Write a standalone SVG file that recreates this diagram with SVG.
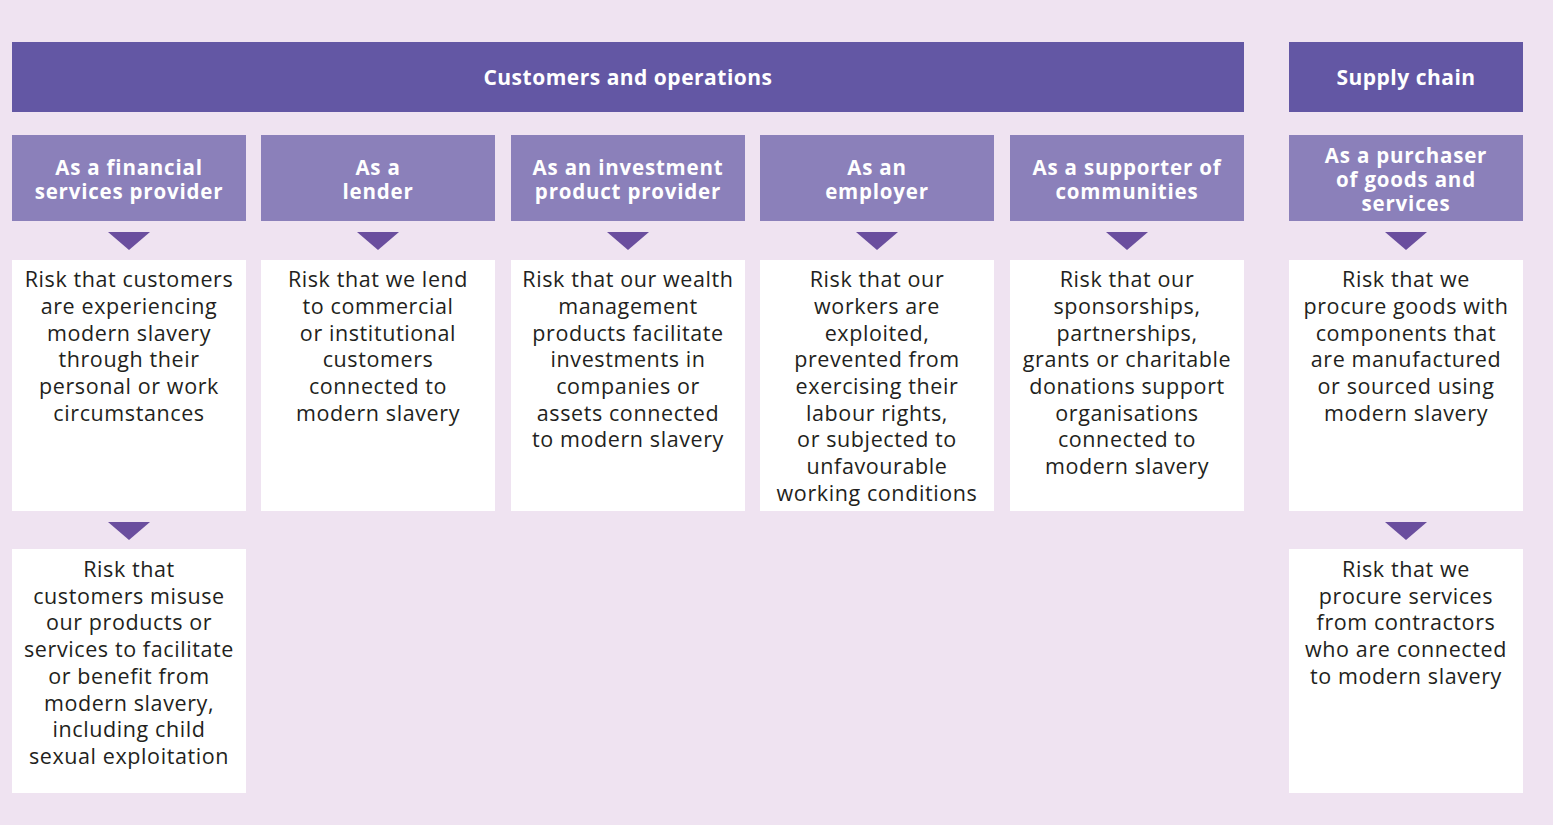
<svg xmlns="http://www.w3.org/2000/svg" width="1553" height="825" viewBox="0 0 1553 825">
<style>
.bg{fill:#efe3f1}
.hdr{fill:#6357a4}
.sub{fill:#8b80ba}
.box{fill:#ffffff}
.tri{fill:#6a4e9e}
.ht{font-family:"Open Sans","Liberation Sans",sans-serif;font-weight:700;font-size:21px;letter-spacing:0.5px;fill:#ffffff;text-anchor:middle}
.st{font-family:"Open Sans","Liberation Sans",sans-serif;font-weight:700;font-size:20.5px;letter-spacing:0.8px;fill:#ffffff;text-anchor:middle}
.bt{font-family:"Open Sans","Liberation Sans",sans-serif;font-size:21.5px;letter-spacing:0.6px;fill:#231f20;text-anchor:middle}
</style>
<defs>
<path id="arrow" d="M-21,0 L21,0 L0,18 Z"/>
</defs>
<rect class="bg" x="0" y="0" width="1553" height="825"/>

<g id="header-customers">
<rect class="hdr" x="12" y="42" width="1232" height="70"/>
<text class="ht" x="628" y="85">Customers and operations</text>
</g>
<g id="header-supply">
<rect class="hdr" x="1289" y="42" width="234" height="70"/>
<text class="ht" x="1406" y="85">Supply chain</text>
</g>

<g id="sub-financial">
<rect class="sub" x="12" y="135" width="234" height="86"/>
<text class="st" x="129" y="175">As a financial</text>
<text class="st" x="129" y="199">services provider</text>
</g>
<g id="sub-lender">
<rect class="sub" x="261" y="135" width="234" height="86"/>
<text class="st" x="378" y="175">As a</text>
<text class="st" x="378" y="199">lender</text>
</g>
<g id="sub-investment">
<rect class="sub" x="511" y="135" width="234" height="86"/>
<text class="st" x="628" y="175">As an investment</text>
<text class="st" x="628" y="199">product provider</text>
</g>
<g id="sub-employer">
<rect class="sub" x="760" y="135" width="234" height="86"/>
<text class="st" x="877" y="175">As an</text>
<text class="st" x="877" y="199">employer</text>
</g>
<g id="sub-communities">
<rect class="sub" x="1010" y="135" width="234" height="86"/>
<text class="st" x="1127" y="175">As a supporter of</text>
<text class="st" x="1127" y="199">communities</text>
</g>
<g id="sub-purchaser">
<rect class="sub" x="1289" y="135" width="234" height="86"/>
<text class="st" x="1406" y="163">As a purchaser</text>
<text class="st" x="1406" y="187">of goods and</text>
<text class="st" x="1406" y="211">services</text>
</g>

<g id="connectors">
<use href="#arrow" class="tri" x="129" y="232"/>
<use href="#arrow" class="tri" x="378" y="232"/>
<use href="#arrow" class="tri" x="628" y="232"/>
<use href="#arrow" class="tri" x="877" y="232"/>
<use href="#arrow" class="tri" x="1127" y="232"/>
<use href="#arrow" class="tri" x="1406" y="232"/>
<use href="#arrow" class="tri" x="129" y="522"/>
<use href="#arrow" class="tri" x="1406" y="522"/>
</g>

<g id="risk-customers">
<rect class="box" x="12" y="260" width="234" height="251"/>
<text class="bt" x="129" y="287">Risk that customers</text>
<text class="bt" x="129" y="314">are experiencing</text>
<text class="bt" x="129" y="341">modern slavery</text>
<text class="bt" x="129" y="367">through their</text>
<text class="bt" x="129" y="394">personal or work</text>
<text class="bt" x="129" y="421">circumstances</text>
</g>
<g id="risk-lend">
<rect class="box" x="261" y="260" width="234" height="251"/>
<text class="bt" x="378" y="287">Risk that we lend</text>
<text class="bt" x="378" y="314">to commercial</text>
<text class="bt" x="378" y="341">or institutional</text>
<text class="bt" x="378" y="367">customers</text>
<text class="bt" x="378" y="394">connected to</text>
<text class="bt" x="378" y="421">modern slavery</text>
</g>
<g id="risk-wealth">
<rect class="box" x="511" y="260" width="234" height="251"/>
<text class="bt" x="628" y="287">Risk that our wealth</text>
<text class="bt" x="628" y="314">management</text>
<text class="bt" x="628" y="341">products facilitate</text>
<text class="bt" x="628" y="367">investments in</text>
<text class="bt" x="628" y="394">companies or</text>
<text class="bt" x="628" y="421">assets connected</text>
<text class="bt" x="628" y="447">to modern slavery</text>
</g>
<g id="risk-workers">
<rect class="box" x="760" y="260" width="234" height="251"/>
<text class="bt" x="877" y="287">Risk that our</text>
<text class="bt" x="877" y="314">workers are</text>
<text class="bt" x="877" y="341">exploited,</text>
<text class="bt" x="877" y="367">prevented from</text>
<text class="bt" x="877" y="394">exercising their</text>
<text class="bt" x="877" y="421">labour rights,</text>
<text class="bt" x="877" y="447">or subjected to</text>
<text class="bt" x="877" y="474">unfavourable</text>
<text class="bt" x="877" y="501">working conditions</text>
</g>
<g id="risk-sponsorships">
<rect class="box" x="1010" y="260" width="234" height="251"/>
<text class="bt" x="1127" y="287">Risk that our</text>
<text class="bt" x="1127" y="314">sponsorships,</text>
<text class="bt" x="1127" y="341">partnerships,</text>
<text class="bt" x="1127" y="367">grants or charitable</text>
<text class="bt" x="1127" y="394">donations support</text>
<text class="bt" x="1127" y="421">organisations</text>
<text class="bt" x="1127" y="447">connected to</text>
<text class="bt" x="1127" y="474">modern slavery</text>
</g>
<g id="risk-goods">
<rect class="box" x="1289" y="260" width="234" height="251"/>
<text class="bt" x="1406" y="287">Risk that we</text>
<text class="bt" x="1406" y="314">procure goods with</text>
<text class="bt" x="1406" y="341">components that</text>
<text class="bt" x="1406" y="367">are manufactured</text>
<text class="bt" x="1406" y="394">or sourced using</text>
<text class="bt" x="1406" y="421">modern slavery</text>
</g>
<g id="risk-misuse">
<rect class="box" x="12" y="549" width="234" height="244"/>
<text class="bt" x="129" y="577">Risk that</text>
<text class="bt" x="129" y="604">customers misuse</text>
<text class="bt" x="129" y="630">our products or</text>
<text class="bt" x="129" y="657">services to facilitate</text>
<text class="bt" x="129" y="684">or benefit from</text>
<text class="bt" x="129" y="711">modern slavery,</text>
<text class="bt" x="129" y="737">including child</text>
<text class="bt" x="129" y="764">sexual exploitation</text>
</g>
<g id="risk-contractors">
<rect class="box" x="1289" y="549" width="234" height="244"/>
<text class="bt" x="1406" y="577">Risk that we</text>
<text class="bt" x="1406" y="604">procure services</text>
<text class="bt" x="1406" y="630">from contractors</text>
<text class="bt" x="1406" y="657">who are connected</text>
<text class="bt" x="1406" y="684">to modern slavery</text>
</g>
</svg>
